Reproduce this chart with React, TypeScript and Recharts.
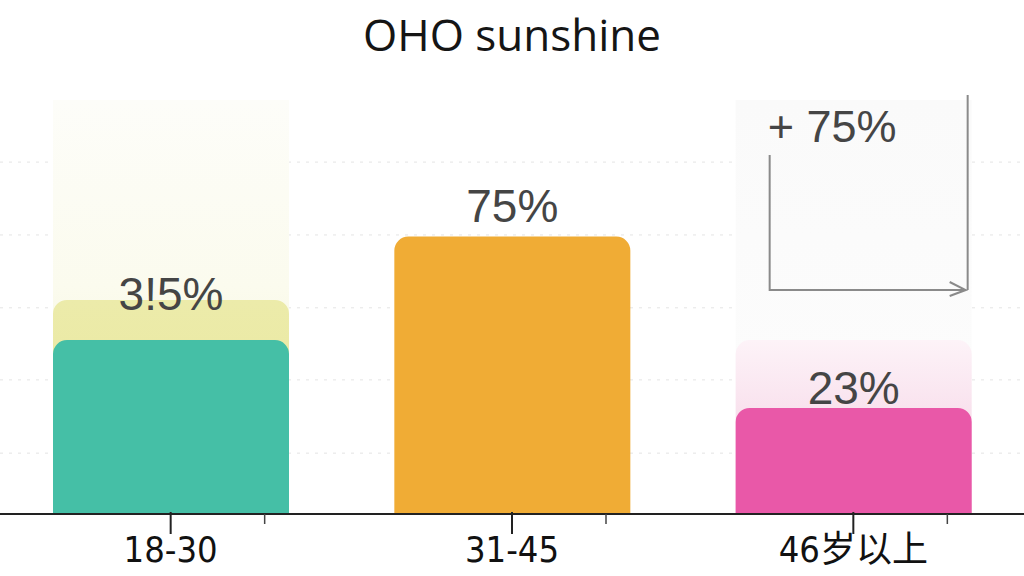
import React from "react";
import { BarChart, Bar, XAxis, YAxis, CartesianGrid, Cell, LabelList, Rectangle } from "recharts";

const categories = ["18-30", "31-45", "46岁以上"];
const shares = [42, 67, 25.6];
const haloShares = [51.7, 0, 42];
const backdropShares = [100, 0, 100];
const valueLabels = ["3!5%", "75%", "23%"];
const gridValues = [14.7, 32.4, 49.8, 67.4, 85];
const annotationText = "+ 75%";

const mainColors = ["#45bfa6", "#f0ac35", "#e958a8"];
const haloGradients = ["url(#haloYellow)", "none", "url(#haloPink)"];
const backdropGradients = ["url(#backCream)", "none", "url(#backGrey)"];
const labelLift = [30, 15, 4];

const data = categories.map((name, i) => ({
  name,
  share: shares[i],
  halo: haloShares[i],
  backdrop: backdropShares[i],
  label: valueLabels[i],
}));

const LABEL_FONT = "'Liberation Sans', Arial, sans-serif";

function ValueLabel(props: any) {
  const { x, y, width, index } = props;
  return (
    <text
      x={x + width / 2}
      y={y - labelLift[index]}
      textAnchor="middle"
      fontFamily={LABEL_FONT}
      fontSize={46}
      fill="#454545"
    >
      {valueLabels[index]}
    </text>
  );
}

// backdrop column; the third one also carries the "+ 75%" bracket
function BackdropShape(props: any) {
  const { x, y, width, height, index, fill } = props;
  if (!height) return null;
  const left = x + 34;
  const right = x + width - 4;
  const bottom = y + 190;
  return (
    <g>
      <Rectangle x={x} y={y} width={width} height={height} fill={fill} />
      {index === 2 && (
        <g>
          <text x={left - 2} y={y + 42} fontFamily={LABEL_FONT} fontSize={45} fill="#454545">
            {annotationText}
          </text>
          <path
            d={`M${left},${y + 55} L${left},${bottom} L${right - 2},${bottom} M${right - 18},${bottom - 8} L${right - 2},${bottom} L${right - 18},${bottom + 6} M${right},${bottom} L${right},${y - 5}`}
            stroke="#8a8a8a"
            strokeWidth={2}
            fill="none"
          />
        </g>
      )}
    </g>
  );
}

function CategoryTick(props: any) {
  const { x, y, payload } = props;
  return (
    <g>
      <line x1={x} y1={y - 10} x2={x} y2={y + 12} stroke="#222" strokeWidth={2} />
      <line x1={x + 94} y1={y - 8} x2={x + 94} y2={y + 2} stroke="#444" strokeWidth={1.5} />
      <text
        x={x}
        y={y + 40}
        textAnchor="middle"
        fontFamily="'DejaVu Sans Condensed', 'Noto Sans CJK SC', sans-serif"
        fontSize={36}
        fill="#111"
      >
        {payload.value}
      </text>
    </g>
  );
}

export default function App() {
  return (
    <div style={{ position: "absolute", left: 0, top: 0, width: 1024, height: 576, background: "#fff", overflow: "hidden" }}>
      <div
        style={{
          position: "absolute",
          top: 4,
          left: 0,
          width: 1024,
          textAlign: "center",
          fontFamily: "'Open Sans', Lato, sans-serif",
          fontSize: 44,
          color: "#151515",
        }}
      >
        OHO sunshine
      </div>
      <BarChart
        width={1024}
        height={576}
        data={data}
        margin={{ top: 100, right: 0, bottom: 32, left: 0 }}
      >
        <defs>
          <linearGradient id="backCream" x1="0" y1="0" x2="0" y2="1">
            <stop offset="0%" stopColor="#fdfdf9" />
            <stop offset="45%" stopColor="#fbfbee" />
            <stop offset="100%" stopColor="#f2f2cc" />
          </linearGradient>
          <linearGradient id="backGrey" x1="0" y1="0" x2="0" y2="1">
            <stop offset="0%" stopColor="#fafafa" />
            <stop offset="100%" stopColor="#fdfdfd" />
          </linearGradient>
          <linearGradient id="haloYellow" x1="0" y1="0" x2="0" y2="1">
            <stop offset="0%" stopColor="#ecebaa" />
            <stop offset="100%" stopColor="#e8e799" />
          </linearGradient>
          <linearGradient id="haloPink" x1="0" y1="0" x2="0" y2="1">
            <stop offset="0%" stopColor="#fdf3f8" />
            <stop offset="100%" stopColor="#f3c9df" />
          </linearGradient>
        </defs>
        <CartesianGrid
          vertical={false}
          horizontalValues={gridValues}
          stroke="#e4e4e4"
          strokeDasharray="3 6"
        />
        <YAxis hide domain={[0, 100]} />
        <XAxis
          xAxisId="main"
          dataKey="name"
          height={30}
          axisLine={{ stroke: "#222", strokeWidth: 2 }}
          tickLine={false}
          tick={<CategoryTick />}
          interval={0}
        />
        <XAxis xAxisId="back" dataKey="name" hide height={0} />
        <XAxis xAxisId="halo" dataKey="name" hide height={0} />
        <Bar
          xAxisId="back"
          dataKey="backdrop"
          barSize={236}
          isAnimationActive={false}
          shape={<BackdropShape />}
        >
          {data.map((_, i) => (
            <Cell key={i} fill={backdropGradients[i]} />
          ))}
        </Bar>
        <Bar xAxisId="halo" dataKey="halo" barSize={236} isAnimationActive={false} radius={[14, 14, 0, 0]}>
          {data.map((_, i) => (
            <Cell key={i} fill={haloGradients[i]} />
          ))}
        </Bar>
        <Bar xAxisId="main" dataKey="share" barSize={236} isAnimationActive={false} radius={[14, 14, 0, 0]}>
          {data.map((_, i) => (
            <Cell key={i} fill={mainColors[i]} />
          ))}
          <LabelList dataKey="share" content={<ValueLabel />} />
        </Bar>
      </BarChart>
    </div>
  );
}
